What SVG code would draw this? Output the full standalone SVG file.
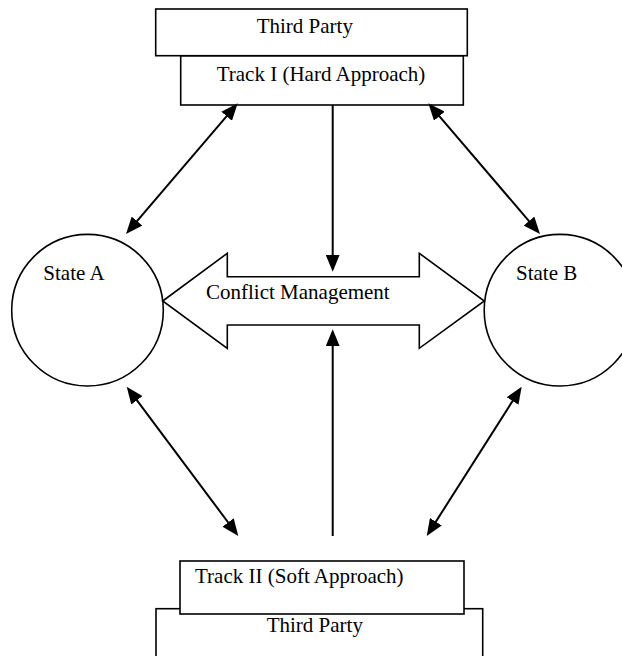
<svg xmlns="http://www.w3.org/2000/svg" width="622" height="656" viewBox="0 0 622 656">
<style>
.box{fill:#fff;stroke:#000;stroke-width:1.6}
.conn{stroke:#000;stroke-width:2;fill:none}
text{font-family:"Liberation Serif","Times New Roman",serif;font-size:21px;fill:#000}
</style>
<defs>
<marker id="ah" markerUnits="userSpaceOnUse" markerWidth="17" markerHeight="14" viewBox="0 0 17 14" refX="7" refY="7" orient="auto-start-reverse">
<path d="M0,0 L17,7 L0,14 z" fill="#000"/>
</marker>
</defs>
<rect width="622" height="656" fill="#fff"/>
<g id="track1">
<rect class="box" x="180.7" y="55.7" width="282.6" height="49.3"/>
<text x="216.7" y="80.7">Track I (Hard Approach)</text>
</g>
<g id="thirdparty-top">
<rect class="box" x="155.7" y="9" width="311.6" height="46.7"/>
<text x="256.7" y="32.7">Third Party</text>
</g>
<g id="stateA">
<circle class="box" cx="87.5" cy="310.2" r="75.8"/>
<text x="43.3" y="280">State A</text>
</g>
<g id="stateB">
<circle class="box" cx="560" cy="310.2" r="75.8"/>
<text x="516" y="280">State B</text>
</g>
<g id="conflict">
<path class="box" d="M162.7,301 L227.3,253.3 L227.3,276.7 L419.3,276.7 L419.3,253.3 L484.3,301 L419.3,348.3 L419.3,325 L227.3,325 L227.3,348.3 Z"/>
<text x="206" y="299.3">Conflict Management</text>
</g>
<g id="thirdparty-bottom">
<rect class="box" x="156" y="608.7" width="326.7" height="60"/>
<text x="266.7" y="631.7">Third Party</text>
</g>
<g id="track2">
<rect class="box" x="180" y="561" width="284" height="53"/>
<text x="195" y="583.3">Track II (Soft Approach)</text>
</g>
<g id="connectors">
<line class="conn" x1="231.2" y1="110.9" x2="132.5" y2="226.4" marker-start="url(#ah)" marker-end="url(#ah)"/>
<line class="conn" x1="434.8" y1="110.9" x2="533.5" y2="226.4" marker-start="url(#ah)" marker-end="url(#ah)"/>
<line class="conn" x1="132.7" y1="394.7" x2="232.3" y2="528" marker-start="url(#ah)" marker-end="url(#ah)"/>
<line class="conn" x1="516.3" y1="395.1" x2="432.1" y2="527.6" marker-start="url(#ah)" marker-end="url(#ah)"/>
<line class="conn" x1="332.7" y1="105" x2="332.7" y2="261.7" marker-end="url(#ah)"/>
<line class="conn" x1="332.7" y1="536" x2="332.7" y2="339.3" marker-end="url(#ah)"/>
</g>
</svg>
